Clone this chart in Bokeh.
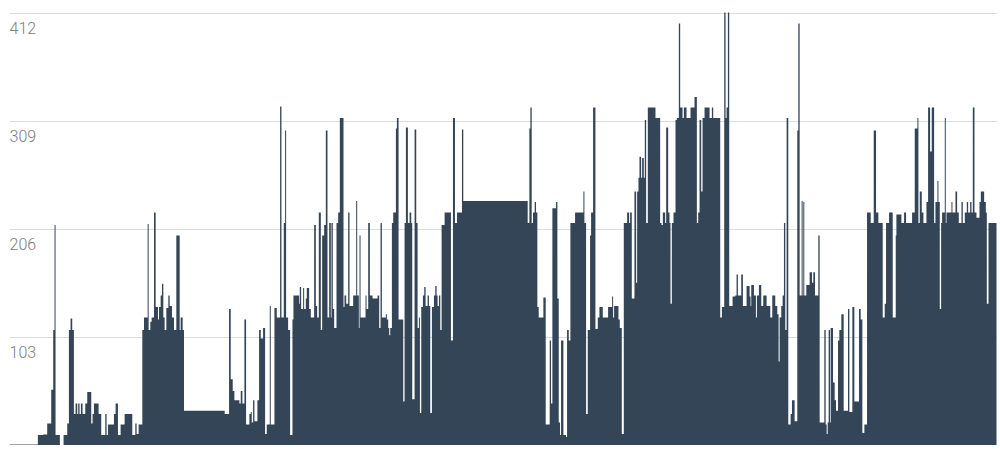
from bokeh.plotting import figure
from bokeh.embed import file_html
from bokeh.resources import INLINE
from bokeh.models import FixedTicker, ColumnDataSource, Range1d
from bokeh.core.properties import value
import numpy as np

tick_values = [103, 206, 309, 412]
tick_labels = ["103", "206", "309", "412"]

starts_1 = [27,112,128,140,152,158,162,165,178,189,200,205,210,215,220,225,230,233,237,241,246,254,260,272,276,280,294,302,314,318,322,340,345,352,360,372,395,404,408,414,425,430,441,444,449,453,460,465,472,475,480,484,488,492,497,503,507,514,520,527,537,540,546,550,672,685,690,696,701,716,720,725,731,736,746]
values_1 = [1,10,10.5,21,53,110,210,10,0,10,21,110,121,110,30,40,30,40,30,40,30,40,51,21,30,40,30,10,30,10,20,30,40,10,20,30,10,21,11,20,110,122,211,110,118,122,222,132,120,132,143,154,122,110,131,143,133,122,110,200,110,122,110,33,30,130,63,52,43,40,52,40,120,20,30]

starts_2 = [0,3,7,11,20,25,30,37,43,48,57,60,71,78,88,92,99,103,106,112,118,125,128,145,147,151,157,160,165,168,175,180,190,195,199,204,210,214,220,225,230,235,240,242,246,250,257,262,267,278,281,286,292,296,307,316,319,324,326,329,344,347,352,357,365,380,385,389,393,405,408,412,415,418,423,427,435,438,443,457,461,465,471,476,481,484,491,496,500,504,507,511,516,520,524,530,534,538,543,549,553,557,560,564,568,572,581,600,606,612,618,633,637]
values_2 = [32,22,43,23,43,110,102,112,11,20,133,20,131,122,323,122,212,300,122,110,10,120,143,135,151,130,150,130,140,150,130,122,210,133,122,222,110,200,210,300,122,212,122,212,130,112,212,222,312,132,143,135,222,133,143,233,143,112,200,122,143,130,212,143,140,143,112,212,122,125,120,112,105,112,212,222,302,312,120,42,212,303,212,222,212,44,301,212,112,122,31,132,143,151,133,143,133,31,132,143,152,143,133,143,110,210,222,100,312,212,222,301,233]

starts_3 = [0,80,85,88,92,96,101,105,109,113,127,134,146,150,154,165,169,173,177,180,187,195,198,203,208,222,247,250,255,260,267,270,276,283,290,295,305,321,333,336,339,352,356,362,368,378,384,387,392,400,405,408,412,415,420,423,428,431,435,440,463,477,481,485,492,495,501,505,508,512,517,523,527,533,537,544,548,556,568,580,587,591,595,600,604,610,625,632,636,657,662,669,673,676,680,684,694,702,706,710,720,725,736,745,748]
values_3 = [233,212,302,322,212,222,232,222,132,122,141,20,100,40,226,232,140,22,10,100,10,8,110,100,212,222,242,212,30,110,200,222,322,111,122,132,122,132,142,122,133,120,112,11,212,222,212,222,140,242,155,242,255,275,255,274,255,310,212,322,312,212,210,222,212,303,222,212,135,212,222,310,312,402,322,312,322,312,322,332,212,222,310,242,312,322,312,322,312,122,132,415,312,322,415,133,142,143,163,143,163,133,152,142,133]

starts_4 = [0,8,14,17,23,30,36,46,57,63,72,78,82,85,90,94,98,102,106,111,118,122,130,138,141,145,151,154,156,159,165,175,182,186,191,201,205,219,223,226,229,232,236,238,245,250,254,260,264,270,277,290,294,303,309,323,328,333,339,347,358,367,374,381,394,400,404,413,424,428,433,435,450,458,464,482,490,498,501,505,511,516,525,530,536,541,548,552,558,561,565,569,572,580,583,585,600,603,612,617,622,630,634,640,646,650,656,660,664,669,675,684,688,698,703,706,711,735]
values_4 = [153,143,122,143,153,133,143,133,122,143,133,125,80,122,133,143,212,110,312,20,30,43,23,300,402,143,233,143,232,143,153,165,155,165,143,200,22,110,20,11,22,110,22,112,60,43,33,100,110,125,33,130,32,132,42,130,120,12,20,222,212,300,222,212,122,135,212,222,122,122,200,220,212,222,212,222,302,312,212,242,222,212,232,322,280,322,212,232,252,232,130,212,222,312,212,222,232,222,242,222,212,232,212,222,232,222,232,222,322,222,217,232,242,232,222,135,212,212]

x = np.concatenate([np.array(starts_1), np.array(starts_2) + 750, np.array(starts_3) + 1500, np.array(starts_4) + 2250])
y = np.array(values_1 + values_2 + values_3 + values_4, dtype=float)

p = figure(width=997, height=445, output_backend="svg", toolbar_location=None,
           x_range=Range1d(27, 2988), y_range=Range1d(0, 412.5),
           min_border_left=9, min_border_right=0, min_border_top=12, min_border_bottom=0)
p.outline_line_color = None
p.xaxis.visible = False
p.yaxis.visible = False
p.xgrid.visible = False
p.ygrid.ticker = FixedTicker(ticks=tick_values)
p.ygrid.grid_line_color = "#dcdcdc"
p.ygrid.grid_line_width = 1

p.varea_step(x=x, y1=np.zeros_like(y), y2=y, step_mode="after", fill_color="#344557")

src = ColumnDataSource(dict(x=[27] * 4, y=tick_values, t=tick_labels))
p.text(x="x", y="y", text="t", source=src, text_font=value("Roboto Light"),
       text_font_size="16px", text_color="#808080", text_baseline="middle", text_align="left",
       y_offset=15)

open("out.html", "w").write(file_html(p, INLINE))
